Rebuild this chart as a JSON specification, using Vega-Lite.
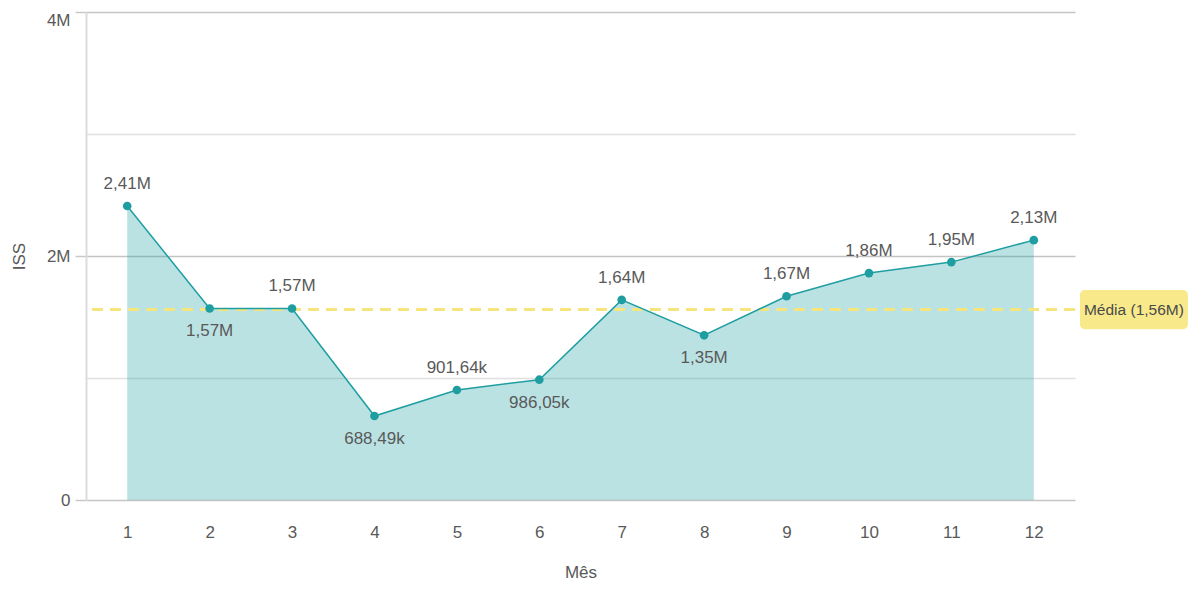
{
  "$schema": "https://vega.github.io/schema/vega-lite/v6.json",
  "width": 989,
  "height": 488,
  "autosize": {"type": "none"},
  "padding": {"left": 86, "top": 12, "right": 115, "bottom": 89},
  "background": "white",
  "config": {
    "view": {"stroke": null},
    "font": "Liberation Sans",
    "text": {"font": "Liberation Sans"}
  },
  "data": {
    "values": [
      {"mes": 1, "iss": 2410000, "rotulo": "2,41M"},
      {"mes": 2, "iss": 1570000, "rotulo": "1,57M"},
      {"mes": 3, "iss": 1570000, "rotulo": "1,57M"},
      {"mes": 4, "iss": 688490, "rotulo": "688,49k"},
      {"mes": 5, "iss": 901640, "rotulo": "901,64k"},
      {"mes": 6, "iss": 986050, "rotulo": "986,05k"},
      {"mes": 7, "iss": 1640000, "rotulo": "1,64M"},
      {"mes": 8, "iss": 1350000, "rotulo": "1,35M"},
      {"mes": 9, "iss": 1670000, "rotulo": "1,67M"},
      {"mes": 10, "iss": 1860000, "rotulo": "1,86M"},
      {"mes": 11, "iss": 1950000, "rotulo": "1,95M"},
      {"mes": 12, "iss": 2130000, "rotulo": "2,13M"}
    ]
  },
  "layer": [
    {
      "mark": {"type": "area", "color": "#1e9fa3", "opacity": 0.3},
      "encoding": {
        "x": {
          "field": "mes",
          "type": "quantitative",
          "title": "Mês",
          "scale": {"domain": [0.5, 12.5], "nice": false, "zero": false},
          "axis": {
            "values": [1, 2, 3, 4, 5, 6, 7, 8, 9, 10, 11, 12],
            "format": "d",
            "domain": false,
            "ticks": false,
            "grid": false,
            "labelPadding": 24,
            "labelFontSize": 17,
            "labelColor": "#595959",
            "titleFontSize": 17,
            "titleFontWeight": "normal",
            "titleColor": "#595959",
            "titlePadding": 24
          }
        },
        "y": {
          "field": "iss",
          "type": "quantitative",
          "title": "ISS",
          "scale": {"domain": [0, 4000000], "nice": false},
          "axis": {
            "values": [0, 1000000, 2000000, 3000000, 4000000],
            "labelExpr": "datum.value == 0 ? '0' : (datum.value % 2000000 == 0 ? (datum.value / 1000000) + 'M' : '')",
            "labelBaseline": {"condition": {"test": "datum.value == 4000000", "value": "top"}, "value": "middle"},
            "domainColor": "#dcdcdc",
            "domainWidth": 2,
            "tickSize": 11,
            "tickColor": {"condition": {"test": "datum.value % 2000000 == 0", "value": "#c8c8c8"}, "value": "transparent"},
            "tickWidth": 1.5,
            "gridColor": {"condition": {"test": "datum.value % 2000000 == 0", "value": "#c4c4c4"}, "value": "#e0e0e0"},
            "gridWidth": 1.5,
            "labelPadding": 5,
            "labelFontSize": 17,
            "labelColor": "#595959",
            "titleFontSize": 17,
            "titleFontWeight": "normal",
            "titleColor": "#595959",
            "titlePadding": 18
          }
        }
      }
    },
    {
      "transform": [
        {"joinaggregate": [{"op": "mean", "field": "iss", "as": "media"}]},
        {"filter": "datum.mes == 1"}
      ],
      "mark": {"type": "rule", "color": "#f6e57c", "strokeWidth": 3, "strokeDash": [11, 7]},
      "encoding": {"y": {"field": "media", "type": "quantitative"}}
    },
    {
      "mark": {"type": "line", "color": "#1f9ea2", "strokeWidth": 1.5},
      "encoding": {"x": {"field": "mes", "type": "quantitative"}, "y": {"field": "iss", "type": "quantitative"}}
    },
    {
      "mark": {"type": "point", "filled": true, "color": "#1f9ea2", "opacity": 1, "size": 75},
      "encoding": {"x": {"field": "mes", "type": "quantitative"}, "y": {"field": "iss", "type": "quantitative"}}
    },
    {
      "transform": [{"filter": {"not": {"field": "mes", "oneOf": [2, 4, 6, 8]}}}],
      "mark": {"type": "text", "dy": -22, "baseline": "middle", "fontSize": 17, "color": "#595959"},
      "encoding": {"x": {"field": "mes", "type": "quantitative"}, "y": {"field": "iss", "type": "quantitative"}, "text": {"field": "rotulo"}}
    },
    {
      "transform": [{"filter": {"field": "mes", "oneOf": [2, 4, 6, 8]}}],
      "mark": {"type": "text", "dy": 23, "baseline": "middle", "fontSize": 17, "color": "#595959"},
      "encoding": {"x": {"field": "mes", "type": "quantitative"}, "y": {"field": "iss", "type": "quantitative"}, "text": {"field": "rotulo"}}
    },
    {
      "transform": [
        {"joinaggregate": [{"op": "mean", "field": "iss", "as": "media"}]},
        {"filter": "datum.mes == 1"},
        {"calculate": "datum.media - 160000", "as": "lo"},
        {"calculate": "datum.media + 160000", "as": "hi"}
      ],
      "mark": {"type": "rect", "color": "#f8e98a", "cornerRadius": 5, "clip": false},
      "encoding": {
        "x": {"datum": 12.56, "type": "quantitative"},
        "x2": {"datum": 13.87},
        "y": {"field": "lo", "type": "quantitative"},
        "y2": {"field": "hi"}
      }
    },
    {
      "transform": [
        {"joinaggregate": [{"op": "mean", "field": "iss", "as": "media"}]},
        {"filter": "datum.mes == 1"},
        {"calculate": "'Média (' + replace(format(datum.media / 1000000, '.2f'), '.', ',') + 'M)'", "as": "txt"}
      ],
      "mark": {"type": "text", "baseline": "middle", "align": "center", "fontSize": 15.5, "color": "#4a4a4a", "clip": false},
      "encoding": {
        "x": {"datum": 13.215, "type": "quantitative"},
        "y": {"field": "media", "type": "quantitative"},
        "text": {"field": "txt"}
      }
    }
  ]
}
